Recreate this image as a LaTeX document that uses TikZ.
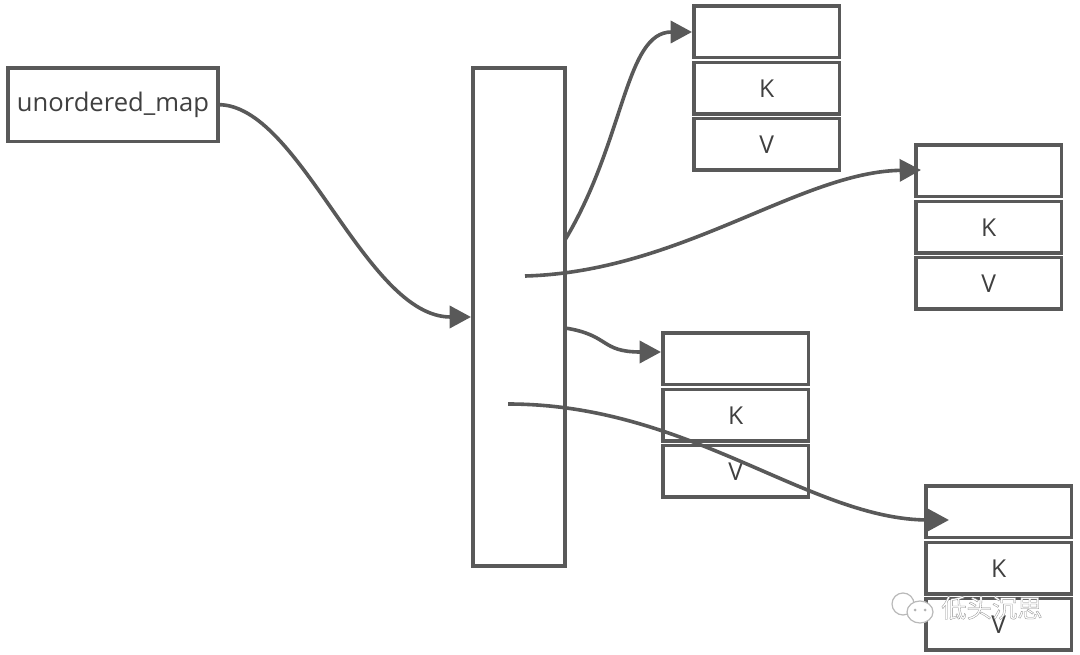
\documentclass[tikz,border=0pt]{standalone}
\usepackage{fontspec}
\setmainfont{Open Sans}
\newfontfamily\cjk[FakeBold=1.2]{Noto Sans CJK SC}
\usetikzlibrary{arrows.meta}
\definecolor{ln}{HTML}{595959}
\definecolor{tx}{HTML}{404040}
\tikzset{
  x=0.75pt,y=-0.75pt,
  bx/.style={draw=ln,line width=2.7pt,fill=white,inner sep=0pt,outer sep=0pt,text=tx,font=\fontsize{18.5}{20}\selectfont,anchor=north west},
  slot/.style={bx,minimum width=109pt,minimum height=38.6pt},
  conn/.style={draw=ln,line width=2.7pt,-{Triangle[length=16pt,width=16.5pt]}},
  bubble/.style={draw=gray!55,line width=0.9pt,fill=white},
}
\begin{document}
\begin{tikzpicture}
\useasboundingbox (0,0) rectangle (1080,655);
\fill[white] (0,0) rectangle (1080,655);
\node[bx,font=\fontsize{19.2}{20}\selectfont,minimum width=157.5pt,minimum height=55pt] (um) at (8,68) {unordered\_map};
\node[bx,minimum width=69pt,minimum height=373.5pt] (tb) at (473,68) {};
% bucket 1
\node[slot] (a0) at (694,6) {};
\node[slot] (a1) at (694,62.5) {K};
\node[slot] (a2) at (694,118.5) {V};
% bucket 2
\node[slot] (b0) at (916,145) {};
\node[slot] (b1) at (916,201.5) {K};
\node[slot] (b2) at (916,257.5) {V};
% bucket 3
\node[slot] (c0) at (663,333) {};
\node[slot] (c1) at (663,389.5) {K};
\node[slot] (c2) at (663,445.5) {V};
% bucket 4
\node[slot] (d0) at (926,486) {};
\node[slot] (d1) at (926,542.5) {K};
\node[slot] (d2) at (926,598.5) {V};
% free ends
\coordinate (s1) at (565,240);
\coordinate (s2) at (525,276);
\coordinate (s3) at (565,328);
\coordinate (s4) at (508,404);
\coordinate (e0) at (471,317);
\coordinate (e1) at (692,32);
\coordinate (e2) at (921,170);
\coordinate (e3) at (661,352);
\coordinate (e4) at (949,520);
\draw[conn] (um.east) .. controls (300,104) and (365,317) .. (e0);
\draw[conn] (s1) .. controls (625,140) and (625,32) .. (e1);
\draw[conn] (s2) .. controls (680,272) and (800,172) .. (e2);
\draw[conn] (s3) .. controls (610,335) and (600,352) .. (e3);
\draw[conn] (s4) .. controls (690,404) and (810,520) .. (e4);
% watermark
\draw[bubble] (903,604) ellipse (11 and 11);
\draw[bubble] (920,612) ellipse (13 and 11);
\fill[gray!60] (915,610) circle (1.5) (925,610) circle (1.5);
\node[inner sep=0pt,font=\cjk\fontsize{19}{21}\selectfont,anchor=west] (wm) at (941,608) {\special{pdf:bcolor [1] [0.55]}低头沉思\special{pdf:ecolor}};
\end{tikzpicture}
\end{document}
